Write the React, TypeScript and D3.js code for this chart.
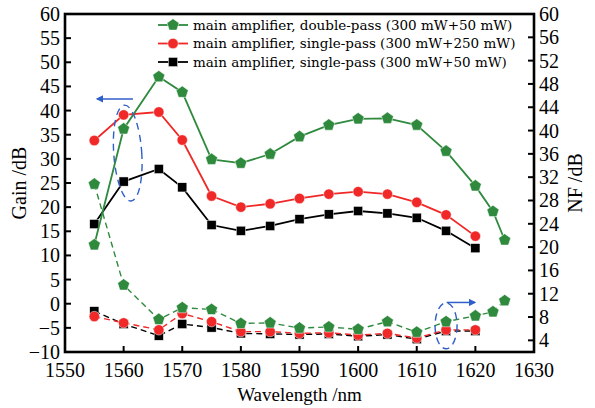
import React from 'react';
import * as d3 from 'd3';

// wavelengths (nm)
const wl = [1555, 1560, 1566, 1570, 1575, 1580, 1585, 1590, 1595, 1600, 1605, 1610, 1615, 1620];
const wlDouble = [...wl, 1623, 1625];

// gain (left axis, dB)
const gainDouble = [12.2, 36.2, 47.0, 43.8, 29.9, 29.1, 31.0, 34.6, 37.0, 38.3, 38.4, 37.0, 31.6, 24.4, 19.1, 13.2];
const gainSingle250 = [33.8, 39.1, 39.7, 33.9, 22.3, 20.0, 20.7, 21.8, 22.7, 23.2, 22.7, 21.0, 18.4, 14.0];
const gainSingle50 = [16.5, 25.3, 27.9, 24.1, 16.3, 15.1, 16.1, 17.5, 18.5, 19.2, 18.7, 17.8, 15.1, 11.5];

// noise figure (right axis, dB)
const nfDouble = [30.8, 13.5, 7.6, 9.6, 9.3, 6.9, 7.0, 6.1, 6.3, 5.9, 7.2, 5.4, 7.2, 8.2, 8.9, 10.8];
const nfSingle250 = [8.1, 7.0, 5.8, 8.6, 7.2, 5.5, 5.5, 5.2, 5.3, 4.9, 5.2, 4.4, 5.8, 5.8];
const nfSingle50 = [9.0, 6.8, 4.8, 6.8, 6.2, 5.2, 5.1, 5.0, 5.1, 4.7, 5.0, 4.2, 5.6, 5.6];

const xTicks = [1550, 1560, 1570, 1580, 1590, 1600, 1610, 1620, 1630];
const gainTicks = [-10, -5, 0, 5, 10, 15, 20, 25, 30, 35, 40, 45, 50, 55, 60];
const nfTicks = [4, 8, 12, 16, 20, 24, 28, 32, 36, 40, 44, 48, 52, 56, 60];

const legendLabels = [
  'main amplifier, double-pass (300 mW+50 mW)',
  'main amplifier, single-pass (300 mW+250 mW)',
  'main amplifier, single-pass (300 mW+50 mW)',
];

const GREEN = '#2f8a3e';
const RED = '#f02828';
const BLACK = '#000';
const BLUE = '#2f5fc8';

const W = 595;
const H = 408;
const left = 65, right = 534, top = 14, bottom = 352;
const tickFont = '"Liberation Serif", "DejaVu Serif", serif';

const x = d3.scaleLinear().domain([1550, 1630]).range([left, right]);
const yG = d3.scaleLinear().domain([-10, 60]).range([bottom, top]);
const yN = d3.scaleLinear().domain([2, 60]).range([bottom, top]);

const pentagon = (r: number) => {
  const pts = d3.range(5).map((i) => {
    const a = -Math.PI / 2 + (i * 2 * Math.PI) / 5;
    return [r * Math.cos(a), r * Math.sin(a)];
  });
  return 'M' + pts.map((p) => p.join(',')).join('L') + 'Z';
};

const Marker = ({ kind, cx, cy }: { kind: string; cx: number; cy: number }) => {
  if (kind === 'pent')
    return <path d={pentagon(6.3)} transform={`translate(${cx},${cy})`} fill={GREEN} stroke="#fff" strokeWidth={0.5} />;
  if (kind === 'circ') return <circle cx={cx} cy={cy} r={5.2} fill={RED} stroke="#fff" strokeWidth={0.5} />;
  return <rect x={cx - 4.6} y={cy - 4.6} width={9.2} height={9.2} fill={BLACK} stroke="#fff" strokeWidth={0.5} />;
};

const Series = ({ xs, ys, scale, color, kind, dashed }: any) => {
  const line = d3
    .line<number>()
    .x((_, i) => x(xs[i]))
    .y((d) => scale(d));
  return (
    <g>
      <path d={line(ys) || ''} fill="none" stroke={color} strokeWidth={dashed ? 1.4 : 1.8} strokeDasharray={dashed ? '6,4' : undefined} />
      {ys.map((v: number, i: number) => (
        <Marker key={i} kind={kind} cx={x(xs[i])} cy={scale(v)} />
      ))}
    </g>
  );
};

export default function App() {
  const legendColors = [GREEN, RED, BLACK];
  const legendKinds = ['pent', 'circ', 'sq'];
  return (
    <svg width={W} height={H} style={{ position: 'absolute', left: 0, top: 0, background: '#fff' }}>
      <defs>
        <marker id="ah" viewBox="0 0 10 10" refX="8" refY="5" markerWidth="5" markerHeight="5" orient="auto-start-reverse">
          <path d="M0,0L10,5L0,10Z" fill={BLUE} />
        </marker>
      </defs>

      {/* NF series (dashed, right axis) */}
      <Series xs={wl} ys={nfSingle50} scale={yN} color={BLACK} kind="sq" dashed />
      <Series xs={wl} ys={nfSingle250} scale={yN} color={RED} kind="circ" dashed />
      <Series xs={wlDouble} ys={nfDouble} scale={yN} color={GREEN} kind="pent" dashed />

      {/* Gain series (solid, left axis) */}
      <Series xs={wl} ys={gainSingle50} scale={yG} color={BLACK} kind="sq" />
      <Series xs={wl} ys={gainSingle250} scale={yG} color={RED} kind="circ" />
      <Series xs={wlDouble} ys={gainDouble} scale={yG} color={GREEN} kind="pent" />

      {/* annotations */}
      <ellipse cx={x(1560.7)} cy={yG(31.2)} rx={14} ry={48} fill="none" stroke={BLUE} strokeWidth={1.4} strokeDasharray="7,5"
        transform={`rotate(-4 ${x(1560.7)} ${yG(31.2)})`} />
      <line x1={x(1561.6)} y1={yG(42.4)} x2={x(1555.5)} y2={yG(42.4)} stroke={BLUE} strokeWidth={1.5} markerEnd="url(#ah)" />
      <ellipse cx={x(1615)} cy={yN(6.5)} rx={11} ry={23} fill="none" stroke={BLUE} strokeWidth={1.4} strokeDasharray="7,5" />
      <line x1={x(1615.1)} y1={yN(10.5)} x2={x(1619.9)} y2={yN(10.5)} stroke={BLUE} strokeWidth={1.5} markerEnd="url(#ah)" />

      {/* frame */}
      <rect x={left} y={top} width={right - left} height={bottom - top} fill="none" stroke="#000" strokeWidth={2.6} />

      {/* bottom axis */}
      {xTicks.map((t) => (
        <g key={t}>
          <line x1={x(t)} x2={x(t)} y1={bottom} y2={bottom - 6} stroke="#000" strokeWidth={2} />
          <text x={x(t)} y={377} textAnchor="middle" fontFamily={tickFont} fontSize={20}>{t}</text>
        </g>
      ))}
      <text x={(left + right) / 2} y={401} textAnchor="middle" fontFamily={tickFont} fontSize={19}>Wavelength /nm</text>

      {/* left axis */}
      {gainTicks.map((t) => (
        <g key={t}>
          <line x1={left} x2={left + 6} y1={yG(t)} y2={yG(t)} stroke="#000" strokeWidth={2} />
          <text x={60} y={yG(t)} dy="0.35em" textAnchor="end" fontFamily={tickFont} fontSize={20}>
            {t < 0 ? '\u2212' + Math.abs(t) : t}
          </text>
        </g>
      ))}
      <text transform={`translate(26,${(top + bottom) / 2}) rotate(-90)`} textAnchor="middle" fontFamily={tickFont} fontSize={20}>Gain /dB</text>

      {/* right axis */}
      {nfTicks.map((t) => (
        <g key={t}>
          <line x1={right} x2={right - 6} y1={yN(t)} y2={yN(t)} stroke="#000" strokeWidth={2} />
          <text x={539} y={yN(t)} dy="0.35em" textAnchor="start" fontFamily={tickFont} fontSize={20}>{t}</text>
        </g>
      ))}
      <text transform={`translate(582,${(top + bottom) / 2}) rotate(-90)`} textAnchor="middle" fontFamily={tickFont} fontSize={20}>NF /dB</text>

      {/* legend */}
      {legendLabels.map((lab, i) => {
        const cy = 25 + i * 18.5;
        return (
          <g key={lab}>
            <line x1={158} x2={188} y1={cy} y2={cy} stroke={legendColors[i]} strokeWidth={1.8} />
            <Marker kind={legendKinds[i]} cx={173} cy={cy} />
            <text x={193} y={cy} dy="0.35em" fontFamily='"DejaVu Serif", serif' fontSize={13.5}>{lab}</text>
          </g>
        );
      })}
    </svg>
  );
}
